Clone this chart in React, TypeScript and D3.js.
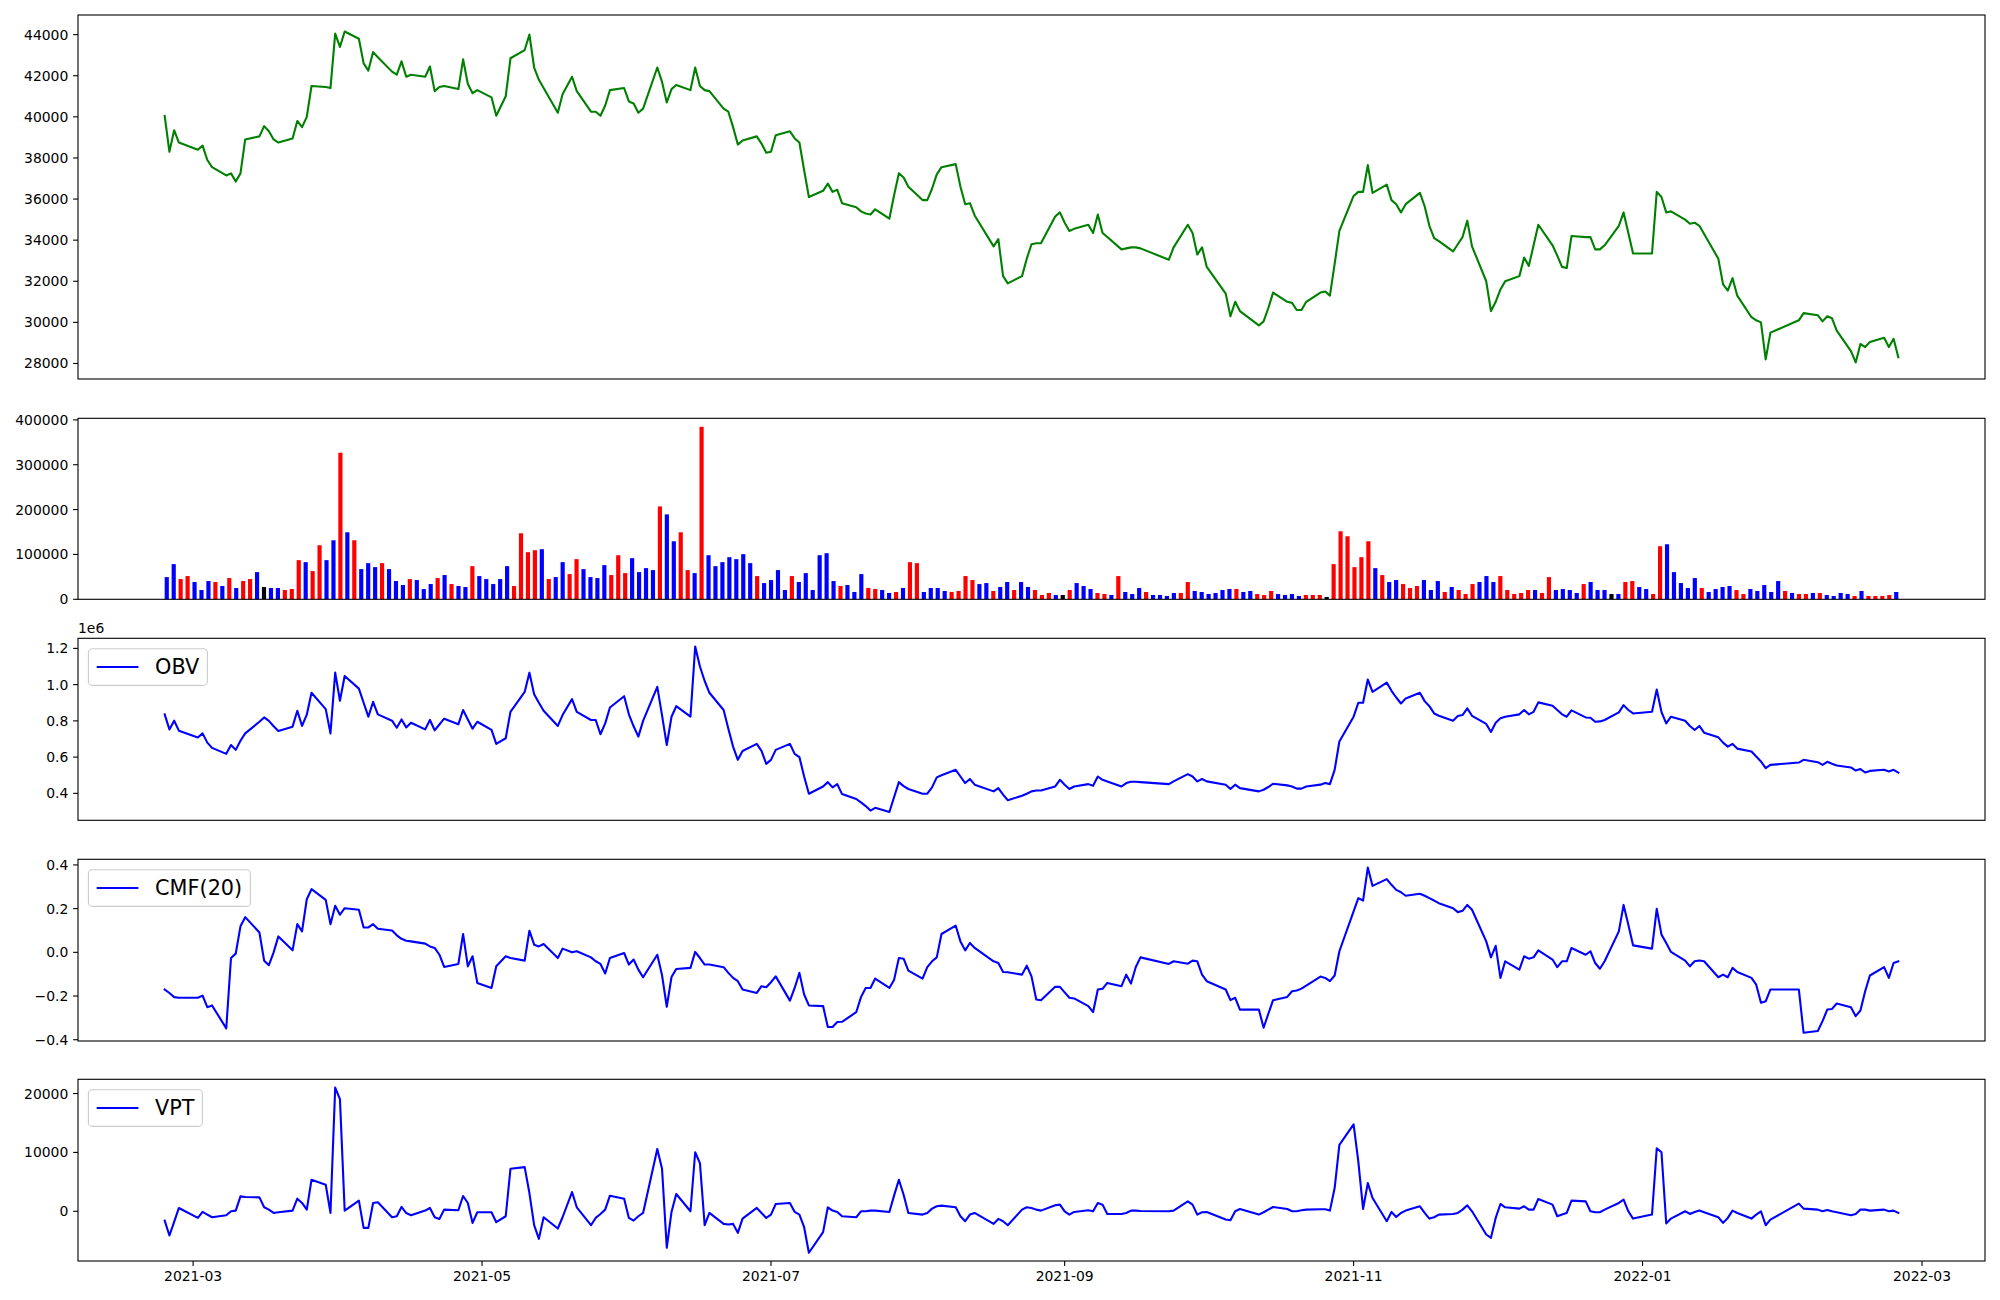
import React from "react";
import * as d3 from "d3";

const W = 2000;
const H = 1300;
const LEFT = 78;
const RIGHT = 1985;
const FONT = "DejaVu Sans, Verdana, sans-serif";
const TICK_FS = 13.9;
const LEG_FS = 20.8;

// panel [top, bottom] in px
const P_PRICE = [15, 379];
const P_VOL = [418.3, 599.3];
const P_OBV = [638.3, 820.3];
const P_CMF = [859.3, 1041];
const P_VPT = [1079.3, 1261];

// KRX trading calendar, 2021-02-23 .. 2022-02-24
const HOLIDAYS = [
  "2021-03-01", "2021-05-05", "2021-05-19", "2021-08-16", "2021-09-20", "2021-09-21",
  "2021-09-22", "2021-10-04", "2021-10-11", "2021-12-31", "2022-01-31", "2022-02-01", "2022-02-02",
];
const fmtDay = d3.timeFormat("%Y-%m-%d");
const dates = d3.timeDay
  .range(new Date(2021, 1, 23), new Date(2022, 1, 25))
  .filter((d) => d.getDay() !== 0 && d.getDay() !== 6 && !HOLIDAYS.includes(fmtDay(d)));

const close = [
  40050, 38300, 39350, 38750,
  38400, 38600, 37900, 37550, 37150, 37250, 36850, 37250, 38900, 39050, 39550, 39300, 38900, 38750, 38950, 39800, 39500, 40000, 41500, 41450, 41400, 44050,
  43400, 44150, 43800, 42600, 42250, 43150, 42900, 42200, 42050, 42700, 41950, 42050, 41950, 42450, 41250, 41450, 41500, 41350, 42800, 41600, 41150, 41300,
  40950, 40050, 41000, 42850, 43250, 44000, 42400, 41800, 41400, 40200, 41100, 41950, 41250, 40250, 40250, 40050, 40550, 41300, 41400,
  40750, 40650, 40200, 40400, 42400, 41700, 40700, 41350, 41550, 41300, 42400, 41500, 41300, 41250, 40400, 40250, 39500, 38650, 38850, 39050, 38700, 38250,
  38300, 39100, 39300, 38950, 38750, 37400, 36100, 36400, 36750, 36350, 36450, 35800, 35600, 35400, 35300, 35250, 35500, 35050, 36200, 37250, 37050, 36600,
  35950, 35950, 36500, 37200, 37550, 37700, 36600, 35750, 35800, 35200, 33700, 34050, 32250, 31900, 32250, 33100, 33800, 33850, 33850, 35150, 35350,
  34850, 34450, 34550, 34750, 34350, 35250, 34350, 34150, 33550, 33600, 33650, 33650, 33600, 33050, 33650, 34750, 34350, 33300, 33650,
  32700, 31400, 30300, 31000, 30550, 29850, 30050, 30700, 31450, 31000, 30950, 30600, 30600, 31000, 31450, 31500, 31300, 32850, 34450,
  36150, 36350, 36350, 37650, 36300, 36700, 35950, 35750, 35350, 35750, 36300, 35650, 34700, 34100, 33950, 33450, 33800, 34150, 34950, 33700, 32000, 30550,
  31000, 31600, 32000, 32250, 33150, 32750, 33750, 34750, 33750, 33250, 32700, 32650, 34200, 34150, 34150, 33550, 33550, 33750, 34700, 35350, 34350, 33350,
  33350, 36350, 36100, 35350, 35400, 35000, 34800, 34850, 34700, 34300, 33100, 31850, 31550, 32150, 31300, 30250, 30100, 30000, 28200, 29500,
  30100, 30450, 30350, 30050, 30300, 30200, 29600, 28600, 28050, 28950, 28800, 29050, 29250, 28800, 29200, 28300,
];

const volume = [
  49500, 78400, 45100, 51800, 38500, 20700, 40700, 38500, 29600, 47300,
  25100, 40700, 45100, 60600, 27400, 25100, 25100, 20700, 22900, 87300,
  82800, 62900, 120500, 87300, 131600, 326800, 149400, 131600, 67300, 80600,
  71700, 80600, 67300, 40700, 31800, 45100, 42900, 22900, 34000, 47300,
  54000, 34000, 29600, 27400, 73900, 51800, 45100, 34000, 45100, 73900,
  29600, 147100, 105000, 109400, 111700, 45100, 49500, 82800, 56200, 89500,
  67300, 49500, 47300, 76200, 54000, 98300, 58400, 91700, 60600, 69500,
  65100, 207000, 189300, 129400, 149400, 65100, 58400, 384500, 98300, 73900,
  82800, 93900, 89500, 100600, 80600, 51800, 36200, 42900, 65100, 20700,
  51800, 38500, 58400, 20700, 98300, 102800, 40700, 29600, 31800, 16300,
  56200, 25100, 22900, 20700, 14100, 16300, 25100, 82800, 80600, 16300,
  25100, 25100, 18500, 16300, 18500, 51800, 42900, 34000, 36200, 18500,
  27400, 38500, 20700, 38500, 27400, 20700, 9600, 14100, 9600, 9600,
  20700, 36200, 29600, 22900, 14100, 11800, 9600, 51800, 16300, 11800,
  25100, 16300, 9600, 9600, 7400, 14100, 14100, 38500, 18500, 16300,
  11800, 14100, 20700, 22900, 22900, 16300, 18500, 11800, 9600, 18500,
  11800, 9600, 11800, 7400, 9600, 9600, 9600, 5200, 78400, 151600,
  140500, 71700, 93900, 129400, 69500, 54000, 38500, 42900, 34000, 25100,
  29600, 42900, 20700, 40700, 16300, 27400, 20700, 11800, 34000, 38500,
  51800, 38500, 51800, 20700, 11800, 14100, 20700, 20700, 14100, 49500,
  20700, 22900, 20700, 14100, 34000, 38500, 20700, 20700, 11800, 11800,
  38500, 40700, 27400, 22900, 11800, 118300, 122700, 60600, 36200, 25100,
  47300, 25100, 16300, 22900, 27400, 29600, 20700, 11800, 22900, 18500,
  31800, 16300, 40700, 18500, 14100, 11800, 11800, 14100, 14100, 9600,
  7400, 14100, 11800, 7400, 18500, 7400, 7400, 7400, 9600, 16300,
];

// 1 = up (red), -1 = down (blue), 0 = flat (black)
const direction = [
  -1, -1, 1, 1, -1, -1, -1, 1, -1, 1,
  -1, 1, 1, -1, 0, -1, -1, 1, 1, 1,
  -1, 1, 1, -1, -1, 1, -1, 1, -1, -1,
  -1, 1, -1, -1, -1, 1, -1, -1, -1, 1,
  -1, 1, -1, -1, 1, -1, -1, -1, -1, -1,
  1, 1, 1, 1, -1, 1, -1, -1, 1, 1,
  -1, -1, -1, -1, 1, 1, 1, -1, -1, -1,
  -1, 1, -1, -1, 1, 1, -1, 1, -1, -1,
  -1, -1, -1, -1, -1, 1, -1, -1, -1, -1,
  1, -1, -1, -1, -1, -1, -1, 1, -1, -1,
  -1, 1, 1, -1, -1, 1, -1, 1, 1, -1,
  -1, -1, -1, 1, 1, 1, 1, -1, -1, 1,
  -1, -1, 1, -1, -1, 1, 1, 1, -1, 0,
  1, -1, -1, -1, 1, 1, -1, 1, -1, -1,
  -1, 1, -1, -1, -1, -1, 1, 1, -1, -1,
  -1, -1, -1, -1, 1, -1, -1, 1, 1, 1,
  -1, -1, -1, -1, 1, 1, 1, 0, 1, 1,
  1, 1, 1, 1, -1, 1, -1, -1, 1, 1,
  1, -1, -1, -1, 1, -1, 1, 1, 1, -1,
  -1, -1, 1, 1, 1, 1, 1, -1, 1, 1,
  -1, -1, -1, -1, 1, -1, -1, -1, 0, -1,
  1, 1, -1, -1, 1, 1, -1, -1, -1, -1,
  -1, 1, -1, -1, -1, -1, 1, 1, -1, -1,
  -1, -1, -1, 1, -1, 1, 1, -1, 1, -1,
  -1, -1, -1, 1, -1, 1, 1, 1, 1, -1,
];

// OBV in millions
const obv = [
  0.836, 0.753, 0.801, 0.746,
  0.708, 0.731, 0.68, 0.651, 0.618, 0.667, 0.64, 0.69, 0.731, 0.795, 0.819, 0.8, 0.77, 0.744, 0.768, 0.856, 0.772, 0.834, 0.955, 0.865, 0.731, 1.066,
  0.911, 1.048, 0.978, 0.9, 0.823, 0.905, 0.836, 0.801, 0.762, 0.808, 0.764, 0.79, 0.753, 0.805, 0.748, 0.78, 0.812, 0.781, 0.86, 0.808, 0.757, 0.795,
  0.75, 0.673, 0.704, 0.85, 0.96, 1.066, 0.947, 0.9, 0.856, 0.772, 0.832, 0.92, 0.85, 0.805, 0.805, 0.726, 0.786, 0.874, 0.936,
  0.836, 0.77, 0.713, 0.8, 0.988, 0.83, 0.667, 0.823, 0.881, 0.823, 1.21, 1.1, 1.02, 0.955, 0.86, 0.757, 0.658, 0.585, 0.634, 0.673, 0.634, 0.563,
  0.585, 0.64, 0.673, 0.618, 0.6, 0.493, 0.398, 0.438, 0.462, 0.433, 0.451, 0.396, 0.369, 0.35, 0.33, 0.305, 0.32, 0.297, 0.38, 0.462, 0.44, 0.424,
  0.398, 0.398, 0.433, 0.488, 0.5, 0.53, 0.493, 0.457, 0.479, 0.448, 0.411, 0.429, 0.393, 0.362, 0.387, 0.398, 0.411, 0.416, 0.416, 0.438, 0.475,
  0.448, 0.424, 0.438, 0.451, 0.442, 0.493, 0.475, 0.466, 0.438, 0.457, 0.464, 0.464, 0.462, 0.451, 0.466, 0.506, 0.493, 0.466, 0.479,
  0.466, 0.448, 0.424, 0.448, 0.429, 0.411, 0.42, 0.435, 0.453, 0.444, 0.438, 0.426, 0.426, 0.438, 0.448, 0.457, 0.451, 0.53, 0.686,
  0.823, 0.9, 0.9, 1.028, 0.96, 1.011, 0.966, 0.929, 0.896, 0.924, 0.955, 0.909, 0.881, 0.841, 0.828, 0.801, 0.827, 0.832, 0.869, 0.828, 0.783, 0.739,
  0.79, 0.814, 0.823, 0.836, 0.86, 0.836, 0.85, 0.902, 0.883, 0.86, 0.836, 0.823, 0.858, 0.819, 0.817, 0.795, 0.797, 0.805, 0.847, 0.887, 0.86, 0.841,
  0.85, 0.973, 0.849, 0.786, 0.823, 0.801, 0.772, 0.75, 0.772, 0.735, 0.709, 0.68, 0.658, 0.673, 0.647, 0.631, 0.603, 0.576, 0.539, 0.557,
  0.57, 0.585, 0.572, 0.557, 0.574, 0.563, 0.554, 0.543, 0.526, 0.534, 0.515, 0.524, 0.53, 0.521, 0.53, 0.515,
];

const cmf = [
  -0.17, -0.186, -0.205, -0.208,
  -0.208, -0.198, -0.251, -0.243, -0.348, -0.026, -0.006, 0.119, 0.161, 0.091, -0.038, -0.059, 0.0, 0.073, 0.009, 0.129, 0.096, 0.243, 0.289, 0.24, 0.129, 0.213,
  0.172, 0.202, 0.195, 0.114, 0.114, 0.129, 0.108, 0.1, 0.078, 0.062, 0.053, 0.05, 0.04, 0.027, 0.02, -0.011, -0.067, -0.053, 0.084, -0.064, -0.018, -0.14,
  -0.163, -0.064, -0.018, -0.026, -0.038, 0.099, 0.035, 0.027, 0.038, -0.026, 0.017, 0.0, 0.005, -0.023, -0.041, -0.053, -0.097, -0.026, -0.003,
  -0.056, -0.033, -0.079, -0.114, -0.011, -0.105, -0.249, -0.113, -0.076, -0.071, 0.002, -0.026, -0.056, -0.056, -0.068, -0.094, -0.117, -0.132, -0.17, -0.186, -0.155, -0.16,
  -0.137, -0.11, -0.221, -0.163, -0.094, -0.193, -0.243, -0.246, -0.342, -0.342, -0.319, -0.318, -0.274, -0.205, -0.163, -0.163, -0.12, -0.163, -0.125, -0.026, -0.029, -0.084,
  -0.12, -0.068, -0.041, -0.023, 0.084, 0.122, 0.05, 0.009, 0.043, 0.02, -0.041, -0.049, -0.09, -0.091, -0.102, -0.061, -0.11, -0.216, -0.219, -0.158, -0.158,
  -0.183, -0.208, -0.211, -0.246, -0.274, -0.17, -0.167, -0.14, -0.155, -0.102, -0.143, -0.068, -0.023, -0.053, -0.041, -0.052, -0.038, -0.041, -0.102,
  -0.132, -0.17, -0.219, -0.208, -0.262, -0.262, -0.345, -0.281, -0.219, -0.204, -0.178, -0.175, -0.166, -0.152, -0.111, -0.117, -0.132, -0.106, 0.005,
  0.187, 0.248, 0.237, 0.388, 0.304, 0.335, 0.309, 0.286, 0.275, 0.259, 0.268, 0.259, 0.248, 0.237, 0.225, 0.202, 0.184, 0.19, 0.217, 0.195, 0.05, -0.023,
  0.03, -0.117, -0.041, -0.079, -0.018, -0.029, -0.023, 0.009, -0.033, -0.068, -0.041, -0.041, 0.02, -0.011, 0.005, -0.049, -0.075, -0.041, 0.096, 0.217, 0.126, 0.032,
  0.017, 0.199, 0.081, 0.043, 0.002, -0.038, -0.064, -0.041, -0.037, -0.041, -0.114, -0.102, -0.114, -0.071, -0.09, -0.117, -0.148, -0.231, -0.224, -0.17,
  -0.17, -0.368, -0.36, -0.315, -0.262, -0.259, -0.234, -0.251, -0.292, -0.266, -0.178, -0.106, -0.068, -0.117, -0.049, -0.041,
];

const vpt = [
  -1578, -4113, -1800, 563,
  -1127, -113, -563, -1014, -676, 0, 113, 2535, 2423, 2366, 676, 282, -282, -169, 113, 2141, 1409, 282, 5352, 4507, -282, 21015,
  19043, 113, 1803, -2817, -2817, 1409, 1521, -1014, -845, 732, -300, -676, 113, 563, -1014, -1296, 282, 169, 2592, 1409, -1972, -169,
  -169, -1859, -845, 7212, 7493, 3099, -2366, -4676, -1014, -2930, -1014, 3268, 676, -2366, -1127, -451, 282, 2648, 2141,
  -1127, -1578, -845, -282, 10592, 7212, -6197, -113, 2930, 0, 10028, 8169, -2366, -282, -2141, -2254, -2141, -3662, -1240, 563, -282, -1127,
  -563, 1240, 1409, -113, -563, -2704, -7043, -3549, 676, 113, -113, -845, -1014, 0, 0, 113, 113, -113, 2704, 5352, 2817, -282,
  -563, -282, 451, 845, 958, 676, -845, -1690, -563, -282, -2141, -1296, -1690, -2366, 282, 676, 563, 282, 113, 1014, 1127,
  0, -563, -113, 169, 0, 1409, 1127, -451, -451, -282, 113, 113, 56, 0, 113, 1690, 1127, -563, -169,
  -113, -1409, -1521, 0, 394, -563, -169, 282, 732, 394, 0, 0, 169, 282, 338, 338, 113, 3944, 11268,
  14761, 8451, 394, 4789, 2254, -1690, -113, -958, -282, 113, 845, -282, -1240, -1014, -563, -451, -282, 282, 1014, 0, -3944, -4507,
  -1127, 1240, 676, 451, 845, 282, 282, 2085, 1127, -845, -563, -282, 1803, 1690, 0, -169, -169, 282, 1409, 1972, 0, -1240,
  -563, 10705, 10028, -2085, -1240, 0, -451, -113, 113, -169, -1014, -1972, -1127, 113, -282, -1240, -563, 0, -2366, -1409,
  1296, 451, 282, 0, 225, 0, -169, -676, -451, 282, 282, 113, 282, 0, 113, -282,
];

const priceTicks = [28000, 30000, 32000, 34000, 36000, 38000, 40000, 42000, 44000];
const volTicks = [0, 100000, 200000, 300000, 400000];
const obvTicks = [0.4, 0.6, 0.8, 1.0, 1.2];
const cmfTicks = [-0.4, -0.2, 0.0, 0.2, 0.4];
const vptTicks = [0, 10000, 20000];
const dateTicks = ["2021-03", "2021-05", "2021-07", "2021-09", "2021-11", "2022-01", "2022-03"];

const padded = (vals: number[], lo0?: number) => {
  const [lo, hi] = d3.extent(vals) as [number, number];
  const r = hi - lo;
  return [lo0 !== undefined ? lo0 : lo - r * 0.05, hi + r * 0.05];
};

const YAxis = ({ scale, ticks, fmt }: { scale: d3.ScaleLinear<number, number>; ticks: number[]; fmt: (v: number) => string }) => (
  <g>
    {ticks.map((t, i) => (
      <g key={i}>
        <line x1={LEFT - 4.9} x2={LEFT} y1={scale(t)} y2={scale(t)} stroke="#000" strokeWidth={1.1} />
        <text x={LEFT - 9.7} y={scale(t)} textAnchor="end" dominantBaseline="central" fontSize={TICK_FS} fontFamily={FONT} fill="#000">
          {fmt(t)}
        </text>
      </g>
    ))}
  </g>
);

const Frame = ({ p }: { p: number[] }) => (
  <rect x={LEFT} y={p[0]} width={RIGHT - LEFT} height={p[1] - p[0]} fill="none" stroke="#000" strokeWidth={1.1} />
);

const Legend = ({ p, label, width }: { p: number[]; label: string; width: number }) => {
  const x = LEFT + 10.4;
  const y = p[0] + 10.4;
  const h = 36.7;
  return (
    <g>
      <rect x={x} y={y} width={width} height={h} rx={4} ry={4} fill="#fff" fillOpacity={0.8} stroke="#cccccc" strokeWidth={1.1} />
      <line x1={x + 8.3} x2={x + 50} y1={y + h / 2} y2={y + h / 2} stroke="#0000ff" strokeWidth={2.1} />
      <text x={x + 66.7} y={y + h / 2} dominantBaseline="central" fontSize={LEG_FS} fontFamily={FONT} fill="#000">
        {label}
      </text>
    </g>
  );
};

const fmtPlain = (v: number) => String(v);
const fmtOne = (v: number) => (v < 0 ? "\u2212" + Math.abs(v).toFixed(1) : v.toFixed(1));

export default function App() {
  const n = Math.min(dates.length, close.length, obv.length, cmf.length, vpt.length);
  const t0 = +dates[0];
  const t1 = +dates[n - 1];
  const span = t1 - t0;
  const xt = d3.scaleTime().domain([new Date(t0 - span * 0.05), new Date(t1 + span * 0.05)]).range([LEFT, RIGHT]);

  const nb = volume.length;
  const bw = 0.6;
  const ispan = nb - 1 + bw;
  const xi = d3.scaleLinear().domain([-bw / 2 - ispan * 0.05, nb - 1 + bw / 2 + ispan * 0.05]).range([LEFT, RIGHT]);

  const yPrice = d3.scaleLinear().domain(padded(close)).range([P_PRICE[1], P_PRICE[0]]);
  const yVol = d3.scaleLinear().domain(padded(volume, 0)).range([P_VOL[1], P_VOL[0]]);
  const yObv = d3.scaleLinear().domain(padded(obv)).range([P_OBV[1], P_OBV[0]]);
  const yCmf = d3.scaleLinear().domain(padded(cmf)).range([P_CMF[1], P_CMF[0]]);
  const yVpt = d3.scaleLinear().domain(padded(vpt)).range([P_VPT[1], P_VPT[0]]);

  const mkLine = (y: d3.ScaleLinear<number, number>) =>
    d3.line<number>().x((_, i) => xt(dates[i])).y((v) => y(v));

  const lineProps = { fill: "none", strokeWidth: 2.1, strokeLinejoin: "round" as const, strokeLinecap: "square" as const };
  const dirColor = (d: number) => (d > 0 ? "#ff0000" : d < 0 ? "#0000ff" : "#000000");
  const parseMonth = d3.timeParse("%Y-%m");

  return (
    <div style={{ position: "absolute", left: 0, top: 0 }}>
      <svg width={W} height={H} style={{ display: "block", background: "#fff" }}>
        <rect width={W} height={H} fill="#fff" />

        {/* price */}
        <path d={mkLine(yPrice)(close.slice(0, n)) || ""} stroke="#008000" {...lineProps} />
        <YAxis scale={yPrice} ticks={priceTicks} fmt={fmtPlain} />
        <Frame p={P_PRICE} />

        {/* volume */}
        {volume.map((v, i) => (
          <rect
            key={i}
            x={xi(i - bw / 2)}
            width={xi(bw) - xi(0)}
            y={yVol(v)}
            height={yVol(0) - yVol(v)}
            fill={dirColor(direction[i])}
          />
        ))}
        <YAxis scale={yVol} ticks={volTicks} fmt={fmtPlain} />
        <Frame p={P_VOL} />

        {/* OBV */}
        <path d={mkLine(yObv)(obv.slice(0, n)) || ""} stroke="#0000ff" {...lineProps} />
        <YAxis scale={yObv} ticks={obvTicks} fmt={fmtOne} />
        <text x={LEFT} y={P_OBV[0] - 5} fontSize={TICK_FS} fontFamily={FONT} fill="#000">1e6</text>
        <Legend p={P_OBV} label="OBV" width={119} />
        <Frame p={P_OBV} />

        {/* CMF */}
        <path d={mkLine(yCmf)(cmf.slice(0, n)) || ""} stroke="#0000ff" {...lineProps} />
        <YAxis scale={yCmf} ticks={cmfTicks} fmt={fmtOne} />
        <Legend p={P_CMF} label="CMF(20)" width={162} />
        <Frame p={P_CMF} />

        {/* VPT */}
        <path d={mkLine(yVpt)(vpt.slice(0, n)) || ""} stroke="#0000ff" {...lineProps} />
        <YAxis scale={yVpt} ticks={vptTicks} fmt={fmtPlain} />
        <Legend p={P_VPT} label="VPT" width={114} />
        <Frame p={P_VPT} />

        {/* date axis */}
        {dateTicks.map((lab, i) => {
          const x = xt(parseMonth(lab) as Date);
          return (
            <g key={i}>
              <line x1={x} x2={x} y1={P_VPT[1]} y2={P_VPT[1] + 4.9} stroke="#000" strokeWidth={1.1} />
              <text x={x} y={P_VPT[1] + 20.3} textAnchor="middle" fontSize={TICK_FS} fontFamily={FONT} fill="#000">
                {lab}
              </text>
            </g>
          );
        })}
      </svg>
    </div>
  );
}
